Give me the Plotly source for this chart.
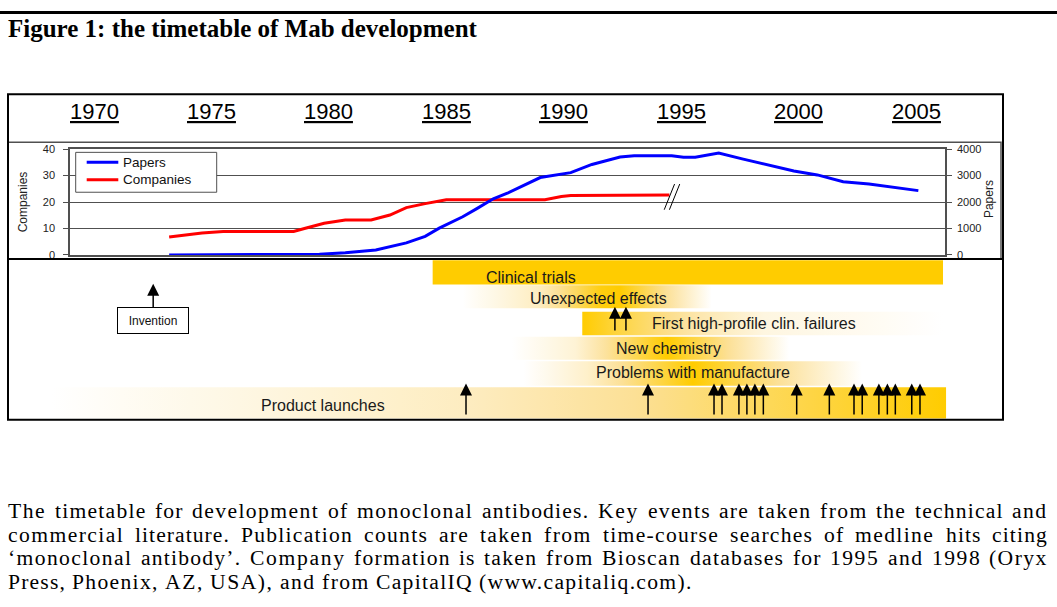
import plotly.graph_objects as go

W, H = 1057, 607

# ---------------- data ----------------
year_labels = [1970, 1975, 1980, 1985, 1990, 1995, 2000, 2005]

paper_years = [1973.2, 1974.2, 1976.4, 1978.5, 1979.6, 1980.7, 1982.0, 1983.3, 1984.1, 1984.7,
               1985.7, 1986.3, 1987.0, 1987.6, 1988.0, 1988.6, 1989.0, 1990.3, 1991.2, 1992.4,
               1993.0, 1994.6, 1995.1, 1995.6, 1996.6, 1997.6, 1998.9, 1999.8, 2000.8, 2001.9,
               2003.0, 2004.1, 2005.1]
papers = [0, 0, 0, 0, 25, 86, 185, 457, 704, 1012,
          1444, 1753, 2123, 2333, 2494, 2741, 2926, 3111, 3420, 3704,
          3753, 3753, 3691, 3691, 3852, 3630, 3358, 3173, 3025, 2765,
          2679, 2556, 2432]

company_years = [1973.2, 1974.6, 1975.5, 1978.5, 1979.0, 1979.8, 1980.7, 1981.8, 1982.6,
                 1983.3, 1984.1, 1985.0, 1989.2, 1989.9, 1990.3, 1992.4, 1994.5]
companies = [6.8, 8.3, 8.9, 8.9, 10.1, 12.0, 13.2, 13.2, 15.1,
             17.9, 19.4, 20.9, 20.9, 22.1, 22.5, 22.7, 22.7]

band_names = ["Clinical trials", "Unexpected effects", "First high-profile clin. failures",
              "New chemistry", "Problems with manufacture", "Product launches"]
# gradient stops per band: (year, intensity 0..1)
band_stops = [
    [(1984.42, 1.0), (2006.15, 1.0)],
    [(1985.7, 0.0), (1989.0, 0.3), (1991.6, 0.95), (1992.4, 1.0), (1996.3, 0.0)],
    [(1990.79, 1.0), (1992.2, 0.8), (1995.8, 0.38), (1998.5, 0.15), (2006.15, 0.0)],
    [(1987.8, 0.0), (1990.5, 0.2), (1994.4, 1.0), (1999.6, 0.0)],
    [(1988.3, 0.0), (1991.0, 0.25), (1995.5, 1.0), (2002.7, 0.0)],
    [(1968.2, 0.0), (1986.0, 0.3), (1993.0, 0.5), (2000.0, 0.75), (2006.28, 1.0)],
]
band_label_years = [1988.59, 1991.47, 1998.10, 1994.45, 1995.5, 1979.77]

launch_years = [1985.84, 1993.59, 1996.40, 1996.74, 1997.46, 1997.80, 1998.14, 1998.50,
                1999.92, 2001.31, 2002.36, 2002.71, 2003.42, 2003.78, 2004.12, 2004.82, 2005.17]
unexpected_years = [1992.18, 1992.65]
invention_year = 1972.52

title_text = "Figure 1: the timetable of Mab development"
caption_lines = [
    "The timetable for development of monoclonal antibodies. Key events are taken from the technical and",
    "commercial literature. Publication counts are taken from time-course searches of medline hits citing",
    "\u2018monoclonal antibody\u2019. Company formation is taken from Bioscan databases for 1995 and 1998 (Oryx",
    "Press, Phoenix, AZ, USA), and from CapitalIQ (www.capitaliq.com).",
]

# ---------------- layout helpers ----------------
SANS = "Liberation Sans, Arial, sans-serif"
SERIF = "Liberation Serif, Times New Roman, serif"
GOLD = (255, 204, 0)
TAN = (252, 224, 150)
WHITE = (255, 255, 255)

X0_PX, PX_PER_YEAR = 94.0, (916.0 - 94.0) / 35.0


def px2yr(px):
    return 1970 + (px - X0_PX) / PX_PER_YEAR


def py(px):  # pixel row -> paper fraction
    return 1 - px / H


def pxx(px):
    return px / W


BAND_TOP = 258.0
BAND_BOT = 422.0
band_rows = [(1.3, 26.0, 19.0), (27.0, 50.3, 40.3), (54.0, 78.0, 66.3),
             (79.3, 103.0, 91.3), (104.3, 129.3, 116.3), (131.0, 162.7, 149.5)]


def tint(t):
    t = max(0.0, min(1.0, t))
    if t <= 0.5:
        a, b, u = WHITE, TAN, t / 0.5
    else:
        a, b, u = TAN, GOLD, (t - 0.5) / 0.5
    return "rgb(%d,%d,%d)" % tuple(round(a[i] + (b[i] - a[i]) * u) for i in range(3))


def gradient(stops):
    y0, y1 = stops[0][0], stops[-1][0]
    cs = []
    for (xa, ta), (xb, tb) in zip(stops[:-1], stops[1:]):
        for k in range(6):
            f = k / 6
            x = xa + (xb - xa) * f
            cs.append([(x - y0) / (y1 - y0), tint(ta + (tb - ta) * f)])
    cs.append([1.0, tint(stops[-1][1])])
    return y0, y1, cs


fig = go.Figure()

# bands
for name, stops, (top, bot, _) in zip(band_names, band_stops, band_rows):
    y0, y1, cs = gradient(stops)
    fig.add_trace(go.Scatter(
        x=[y0, y1, y1, y0, y0], y=[top, top, bot, bot, top],
        xaxis="x", yaxis="y3", mode="lines", line=dict(width=0),
        fill="toself", fillgradient=dict(type="horizontal", colorscale=cs, start=y0, stop=y1),
        hoverinfo="skip", showlegend=False, name=name))

# lines
fig.add_trace(go.Scatter(x=paper_years, y=papers, xaxis="x2", yaxis="y2", mode="lines",
                         line=dict(color="#0000FF", width=3), name="Papers", showlegend=False))
fig.add_trace(go.Scatter(x=company_years, y=companies, xaxis="x2", yaxis="y", mode="lines",
                         line=dict(color="#FF0000", width=3), name="Companies", showlegend=False))

AX = "#505050"
tickfont = dict(family=SANS, size=11, color="#222")
fig.update_layout(
    width=W, height=H, autosize=False,
    margin=dict(l=0, r=0, t=0, b=0),
    paper_bgcolor="white", plot_bgcolor="rgba(0,0,0,0)",
    xaxis=dict(domain=[0, 1], range=[px2yr(0), px2yr(W)], anchor="y3", visible=False),
    xaxis2=dict(domain=[pxx(70), pxx(945)], range=[px2yr(70), px2yr(945)], anchor="y",
                showticklabels=False, ticks="", showgrid=False, zeroline=False,
                showline=True, mirror=True, linecolor=AX, linewidth=1.5),
    yaxis=dict(domain=[py(254), py(146)], anchor="x2", range=[0, 40], tickvals=[0, 10, 20, 30, 40],
               showgrid=True, gridcolor=AX, gridwidth=1, zeroline=False,
               ticks="outside", ticklen=5, tickcolor=AX, showline=True, linecolor=AX, linewidth=1.5,
               tickfont=tickfont, ticklabelstandoff=6),
    yaxis2=dict(overlaying="y", side="right", anchor="x2", range=[0, 4000],
                tickvals=[0, 1000, 2000, 3000, 4000], showgrid=False, zeroline=False,
                ticks="outside", ticklen=5, tickcolor=AX, showline=True, linecolor=AX, linewidth=1.5,
                tickfont=tickfont, ticklabelstandoff=3),
    yaxis3=dict(domain=[py(BAND_BOT), py(BAND_TOP)], anchor="x", range=[BAND_BOT - BAND_TOP, 0],
                visible=False),
    showlegend=False,
)

shapes = []
# top rule, frames
shapes.append(dict(type="line", xref="paper", yref="paper", x0=0, x1=1, y0=py(6.7), y1=py(6.7),
                   line=dict(color="black", width=3)))
shapes.append(dict(type="rect", xref="paper", yref="paper", x0=pxx(8), x1=pxx(1001), y0=py(258), y1=py(139),
                   line=dict(color=AX, width=1.5)))
shapes.append(dict(type="rect", xref="paper", yref="paper", x0=pxx(8), x1=pxx(1003), y0=py(422), y1=py(90),
                   line=dict(color="black", width=2)))
shapes.append(dict(type="line", xref="paper", yref="paper", x0=pxx(8), x1=pxx(1003), y0=py(258), y1=py(258),
                   line=dict(color="black", width=2)))
# legend box
shapes.append(dict(type="rect", xref="paper", yref="paper", x0=pxx(75.7), x1=pxx(216.7),
                   y0=py(190), y1=py(149.3), fillcolor="white", line=dict(color=AX, width=1), layer="above"))
for ypx, col in [(159.3, "#0000FF"), (177.3, "#FF0000")]:
    shapes.append(dict(type="line", xref="paper", yref="paper", x0=pxx(86.7), x1=pxx(118.3),
                       y0=py(ypx), y1=py(ypx), line=dict(color=col, width=3), layer="above"))
# axis break marker after the last company point
ex, ey = company_years[-1], companies[-1]
for dx in (-0.22, 0.0):
    shapes.append(dict(type="line", xref="x2", yref="y", x0=ex + dx, y0=ey - 5.6,
                       x1=ex + dx + 0.44, y1=ey + 4.1, line=dict(color="black", width=1), layer="above"))
fig.update_layout(shapes=shapes)

ann = []
# title
ann.append(dict(xref="paper", yref="paper", x=pxx(8), y=py(22.5), xanchor="left", yanchor="middle",
                text="<b>%s</b>" % title_text, showarrow=False,
                font=dict(family=SERIF, size=25, color="black"), borderpad=0, borderwidth=0))
# year labels
for yr in year_labels:
    ann.append(dict(xref="x", yref="paper", x=yr, y=py(107.5), xanchor="center", yanchor="middle",
                    text="<u>%d</u>" % yr, showarrow=False, font=dict(family=SANS, size=22, color="black"),
                    borderpad=0, borderwidth=0))
# axis titles
ann.append(dict(xref="paper", yref="paper", x=pxx(23.3), y=py(200), xanchor="center", yanchor="middle",
                text="Companies", textangle=-90, showarrow=False,
                font=dict(family=SANS, size=12, color="#222"), borderpad=0, borderwidth=0))
ann.append(dict(xref="paper", yref="paper", x=pxx(989), y=py(197), xanchor="center", yanchor="middle",
                text="Papers", textangle=-90, showarrow=False,
                font=dict(family=SANS, size=12, color="#222"), borderpad=0, borderwidth=0))
# legend texts
for ypx, txt in [(159.3, "Papers"), (177.3, "Companies")]:
    ann.append(dict(xref="paper", yref="paper", x=pxx(122.7), y=py(ypx), xanchor="left", yanchor="middle",
                    text=txt, showarrow=False, font=dict(family=SANS, size=13.5, color="#111"),
                    borderpad=0, borderwidth=0))
# band labels
for name, lx, (_, _, ly) in zip(band_names, band_label_years, band_rows):
    ann.append(dict(xref="x", yref="y3", x=lx, y=ly, text=name, showarrow=False,
                    font=dict(family=SANS, size=16, color="#1a1a1a"), borderpad=0, borderwidth=0))
# arrows
arrow = dict(text="", showarrow=True, arrowhead=2, arrowsize=1.6, arrowwidth=1.5, arrowcolor="black",
             xref="x", yref="y3", axref="x", ayref="y3")
for yr in launch_years:
    ann.append(dict(arrow, x=yr, y=127.0, ax=yr, ay=160.3))
for yr in unexpected_years:
    ann.append(dict(arrow, x=yr, y=48.7, ax=yr, ay=74.7))
ann.append(dict(xref="x", yref="y3", axref="x", ayref="y3", x=invention_year, y=25.3,
                ax=invention_year, ay=62.7, text="Invention", showarrow=True, arrowhead=2,
                arrowsize=1.6, arrowwidth=1.5, arrowcolor="black", bordercolor="black", borderwidth=1,
                borderpad=1, bgcolor="white", width=68, height=23,
                font=dict(family=SANS, size=12, color="#111")))

# caption: wide-set Times, justified; each word letter-spaced to fill its slot
TIMES = {' ': 250, '(': 333, ')': 333, ',': 250, '-': 333, '.': 250, ':': 278,
         'A': 722, 'B': 667, 'C': 667, 'D': 722, 'E': 611, 'F': 556, 'G': 722, 'H': 722, 'I': 333,
         'J': 389, 'K': 722, 'L': 611, 'M': 889, 'N': 722, 'O': 722, 'P': 556, 'Q': 722, 'R': 667,
         'S': 556, 'T': 611, 'U': 722, 'V': 722, 'W': 944, 'X': 722, 'Y': 722, 'Z': 611,
         'a': 444, 'b': 500, 'c': 444, 'd': 500, 'e': 444, 'f': 333, 'g': 500, 'h': 500, 'i': 278,
         'j': 278, 'k': 500, 'l': 278, 'm': 778, 'n': 500, 'o': 500, 'p': 500, 'q': 500, 'r': 333,
         's': 389, 't': 278, 'u': 500, 'v': 500, 'w': 722, 'x': 500, 'y': 500, 'z': 444,
         '\u2018': 333, '\u2019': 333}
SLOT_FS = 24.6   # horizontal advance of the reference's wide-set caption
CAP_FS = 21.6    # glyph size
CAP_L, CAP_R = 8.0, 1048.0
cap_centers = [515.5, 539.5, 563.5, 587.5]


def em(w):
    return sum(TIMES.get(c, 500) for c in w) / 1000.0


capfont = dict(family=SERIF, size=CAP_FS, color="black")
space = TIMES[' '] / 1000.0 * SLOT_FS
for i, (line, cy) in enumerate(zip(caption_lines, cap_centers)):
    words = line.split(" ")
    slots = [em(w) * SLOT_FS for w in words]
    if i == len(caption_lines) - 1:
        gap = space
    else:
        gap = (CAP_R - CAP_L - sum(slots)) / (len(words) - 1)
    x = CAP_L
    for w, sw in zip(words, slots):
        ls = (sw - em(w) * CAP_FS) / len(w)
        ann.append(dict(xref="paper", yref="paper", x=pxx(x), y=py(cy), xanchor="left",
                        yanchor="middle",
                        text='<span style="letter-spacing:%.2fpx">%s</span>' % (ls, w),
                        showarrow=False, font=capfont, borderpad=0, borderwidth=0))
        x += sw + gap

fig.update_layout(annotations=ann)

fig.write_html("out.html", config={"displayModeBar": False},
               post_script="document.body.style.margin='0';")
